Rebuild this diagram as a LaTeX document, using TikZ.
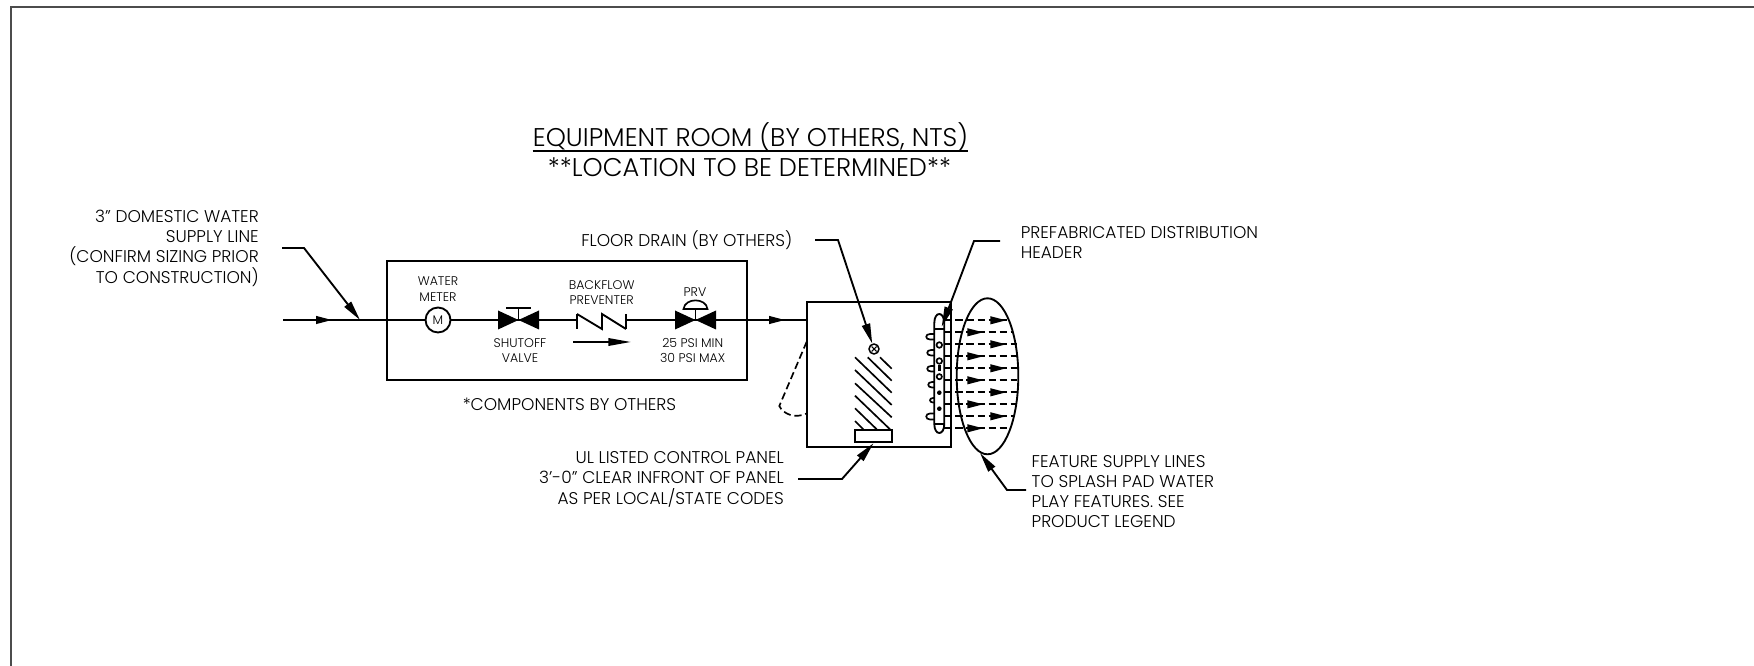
\documentclass[tikz,border=0pt]{standalone}
\usepackage{fontspec}
\setmainfont{Poppins}[UprightFont=* Light]
\usetikzlibrary{arrows.meta}
\tikzset{
  heavy/.style={line width=1.4pt,black},
  medium/.style={line width=1.25pt,black},
  feedline/.style={line width=1.25pt,dash pattern=on 5.5pt off 2.8pt},
  solidtip/.style={-{Triangle[length=12pt,width=5.8pt]}},
  leadertip/.style={-{Triangle[length=15pt,width=6.2pt]}},
  bignote/.style={font=\fontsize{19.2}{15}\selectfont,inner sep=0pt},
  note/.style={font=\fontsize{12.75}{15.2}\selectfont,inner sep=0pt},
  tinynote/.style={font=\fontsize{9.4}{11.6}\selectfont,inner sep=0pt},
}
\begin{document}
\begin{tikzpicture}[x=0.75pt,y=0.75pt,yscale=-1]
\useasboundingbox (0,0) rectangle (1754,666);

%Frame
\draw [line width=0.9pt,black!70] (11,666) -- (11,7) -- (1754,7) ;

% Named points
\coordinate (inlet) at (283,320);
\coordinate (inletHead) at (332,320);
\coordinate (tee) at (360,320);
\coordinate (shutoff) at (518.5,320);
\coordinate (bfIn) at (577,320);
\coordinate (bfOut) at (626,320);
\coordinate (prv) at (695.5,320);
\coordinate (outHead) at (785,320);
\coordinate (supplyStart) at (282,248);
\coordinate (supplyKnee) at (304,248);
\coordinate (flowStart) at (573,342);
\coordinate (flowEnd) at (631,342);
\coordinate (drainStart) at (815,240);
\coordinate (drainKnee) at (838,240);
\coordinate (headerStart) at (1000,241);
\coordinate (headerKnee) at (974,241);
\coordinate (headerTip) at (941.7,326.7);
\coordinate (panelStart) at (798,479);
\coordinate (panelKnee) at (842,479);
\coordinate (featureStart) at (1026,490);
\coordinate (featureKnee) at (1007,490);

%Shape: Component box
\draw [heavy] (386.7,260.7) rectangle (747,380) ;
\node [draw,heavy,inner sep=0pt,minimum width=144.3*0.75pt,minimum height=144.7*0.75pt] (unit) at (878.85,374.35) {};
%Shape: Meter
\node [draw,heavy,circle,inner sep=0pt,minimum size=25*0.75pt,tinynote] (meter) at (438,320) {M};
%Shape: Drain
\node [draw,line width=1.1pt,circle,inner sep=0pt,minimum size=10*0.75pt] (drain) at (874,349) {};
\draw [line width=0.8pt] (871.5,346.5) -- (876.5,351.5) (871.5,351.5) -- (876.5,346.5) ;
%Shape: Control panel
\node [draw,heavy,inner sep=0pt,minimum width=37*0.75pt,minimum height=12.3*0.75pt] (panel) at (873.5,436.2) {};
%Shape: Feature ellipse
\draw [heavy] (987.5,376.3) ellipse (30.8 and 78) ;

%Straight Lines
\draw [heavy] (inlet) -- (meter) ;
\draw [heavy,solidtip] (inlet) ++(33,0) -- (inletHead) ;
\draw [heavy] (meter) -- (shutoff) ;
\draw [heavy] (shutoff) -- (bfIn) ;
\draw [heavy] (bfOut) -- (prv) ;
\draw [heavy] (prv) -- (unit.west |- prv) ;
\draw [heavy,solidtip] (prv) ++(73,0) -- (outHead) ;

%Shape: Shutoff valve
\fill (shutoff) -- ++(-20.5,-9.5) -- ++(0,19) -- cycle ;
\fill (shutoff) -- ++(20.5,-9.5) -- ++(0,19) -- cycle ;
\draw [heavy] (shutoff) -- ++(0,-12) ++(-12.5,0) -- ++(25,0) ;
%Shape: Backflow preventer
\draw [heavy] (577,314) -- (577,329) (626,314) -- (626,329) ;
\draw [heavy] (577,314) -- (602,329) -- (602,314) -- (626,329) ;
\draw [heavy,-{Triangle[length=17pt,width=5.6pt]}] (flowStart) -- (flowEnd) ;
%Shape: PRV
\fill (prv) -- ++(-20.5,-9.5) -- ++(0,19) -- cycle ;
\fill (prv) -- ++(20.5,-9.5) -- ++(0,19) -- cycle ;
\draw [heavy] (prv) -- ++(0,-11) ;
\draw [medium] (683.5,309) .. controls (685,297.5) and (706,297.5) .. (707.5,309) -- cycle ;

%Leader Lines
\draw [heavy,leadertip] (supplyStart) -- (supplyKnee) -- (tee) ;
\draw [heavy,leadertip] (drainStart) -- (drainKnee) -- (drain) ;
\draw [heavy,leadertip] (panelStart) -- (panelKnee) -- (panel.south) ;
\draw [heavy,leadertip] (featureStart) -- (featureKnee) -- (980,453) ;

%Curve Lines: door swing
\draw [feedline] (806.7,341.7) -- (779.3,406) .. controls (783,414) and (795,419) .. (806.7,413.5) ;

%Straight Lines: hatching
\draw [medium] (880,357.3) -- (891.7,368.7) (867.7,357.3) -- (891.7,380.7) (855,357.3) -- (891.7,392.7)
  (855,370) -- (891.7,405) (855,383.3) -- (891.7,417.3) (855,395.7) -- (890,429.3) (855,408.3) -- (876.7,429.3) (855,421) -- (863.3,429.3) ;

%Shape: Distribution header
\draw [heavy,fill=white] (934.3,424) -- (934.3,323) .. controls (934.3,311) and (944.3,311) .. (944.3,323) -- (944.3,424) .. controls (944.3,436) and (934.3,436) .. (934.3,424) -- cycle ;
\draw [medium] (934.3,329) -- (944.3,329) (934.3,424) -- (944.3,424) ;
\draw [medium] (934.3,334) -- (930,334) .. controls (925,334) and (925,339.5) .. (930,339.5) -- (934.3,339.5) ;
\draw [medium] (934.3,350) -- (931,350) .. controls (926,350) and (926,355.5) .. (931,355.5) -- (934.3,355.5) ;
\draw [medium] (934.3,366) -- (931,366) .. controls (926,366) and (926,371.5) .. (931,371.5) -- (934.3,371.5) ;
\draw [medium] (934.3,382) -- (932,382) .. controls (927,382) and (927,387.5) .. (932,387.5) -- (934.3,387.5) ;
\draw [medium] (934.3,398) -- (933,398) .. controls (929,398) and (929,402.5) .. (933,402.5) -- (934.3,402.5) ;
\draw [medium] (934.3,413.5) -- (930,413.5) .. controls (925,413.5) and (925,419.5) .. (930,419.5) -- (934.3,419.5) ;
\draw [medium] (939.3,345) circle (2.8) ;
\draw [medium] (939.3,361) circle (2.8) ;
\draw [medium] (939.3,376.7) circle (2.6) ;
\fill (938,365.5) rectangle (940.6,371.5) ;
\fill (939.3,392.7) circle (2.3) ;
\fill (939.3,408.7) circle (2.3) ;
\draw [heavy,leadertip] (headerStart) -- (headerKnee) -- (headerTip) ;

%Straight Lines: feature supply
\coordinate (rowA) at (944.3,320.3);
\coordinate (rowB) at (944.3,332.3);
\coordinate (rowC) at (944.3,344.3);
\coordinate (rowD) at (944.3,356.3);
\coordinate (rowE) at (944.3,368.3);
\coordinate (rowF) at (944.3,380.3);
\coordinate (rowG) at (944.3,392.3);
\coordinate (rowH) at (944.3,404.3);
\coordinate (rowI) at (944.3,416.3);
\coordinate (rowJ) at (944.3,428.3);
\draw [feedline] (rowA) -- +(64,0) ;
\draw [feedline] (rowB) -- +(69,0) ;
\draw [feedline] (rowC) -- +(73,0) ;
\draw [feedline] (rowD) -- +(73,0) ;
\draw [feedline] (rowE) -- +(74,0) ;
\draw [feedline] (rowF) -- +(73,0) ;
\draw [feedline] (rowG) -- +(73,0) ;
\draw [feedline] (rowH) -- +(73,0) ;
\draw [feedline] (rowI) -- +(69,0) ;
\draw [feedline] (rowJ) -- +(66,0) ;
\draw [medium,solidtip] (rowA) ++(46,0) -- +(16,0) ;
\draw [medium,solidtip] (rowB) ++(23,0) -- +(16,0) ;
\draw [medium,solidtip] (rowC) ++(46,0) -- +(16,0) ;
\draw [medium,solidtip] (rowD) ++(23,0) -- +(16,0) ;
\draw [medium,solidtip] (rowE) ++(46,0) -- +(16,0) ;
\draw [medium,solidtip] (rowF) ++(23,0) -- +(16,0) ;
\draw [medium,solidtip] (rowG) ++(46,0) -- +(16,0) ;
\draw [medium,solidtip] (rowH) ++(23,0) -- +(16,0) ;
\draw [medium,solidtip] (rowI) ++(46,0) -- +(16,0) ;
\draw [medium,solidtip] (rowJ) ++(23,0) -- +(16,0) ;

% Text Node
\draw (750.5,137) node [bignote] (titleA) {EQUIPMENT ROOM (BY OTHERS, NTS)};
\draw [medium] (532.5,151) -- (967.6,151) ;
% Text Node
\draw (749.5,167.2) node [bignote] (titleB) {**LOCATION TO BE DETERMINED**};
% Text Node
\draw (259,248) node [note,align=right,anchor=east] (supplyText) {3" DOMESTIC WATER\\SUPPLY LINE\\(CONFIRM SIZING PRIOR\\TO CONSTRUCTION)};
% Text Node
\draw (792.5,240.5) node [note,anchor=east] (drainText) {FLOOR DRAIN (BY OTHERS)};
% Text Node
\draw (1020.5,242.5) node [note,align=left,anchor=west] (headerText) {PREFABRICATED DISTRIBUTION\\HEADER};
% Text Node
\draw (784,479.2) node [note,align=right,anchor=east] (panelText) {UL LISTED CONTROL PANEL\\3'-0" CLEAR INFRONT OF PANEL\\AS PER LOCAL/STATE CODES};
% Text Node
\draw (1031.4,491.5) node [note,align=left,anchor=west] (featureText) {FEATURE SUPPLY LINES\\TO SPLASH PAD WATER\\PLAY FEATURES. SEE\\PRODUCT LEGEND};
% Text Node
\draw (569.4,404) node [note] (componentsText) {*COMPONENTS BY OTHERS};
% Text Node
\draw (438,289) node [tinynote,align=center] (meterText) {WATER\\METER};
% Text Node
\draw (601.7,292.5) node [tinynote,align=center] (backflowText) {BACKFLOW\\PREVENTER};
% Text Node
\draw (695,292) node [tinynote] (prvText) {PRV};
% Text Node
\draw (520,350.5) node [tinynote,align=center] (shutoffText) {SHUTOFF\\VALVE};
% Text Node
\draw (692.7,350.5) node [tinynote,align=center] (psiText) {25 PSI MIN\\30 PSI MAX};

\end{tikzpicture}
\end{document}
